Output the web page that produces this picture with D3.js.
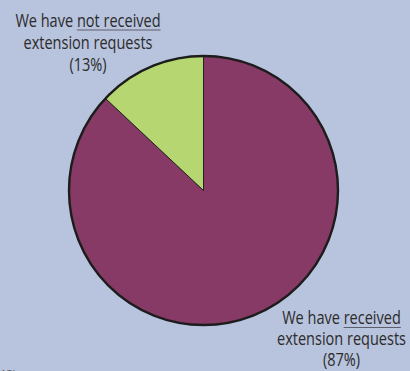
<!DOCTYPE html>
<html>
<head>
<meta charset="utf-8">
<script src="https://cdn.jsdelivr.net/npm/d3@7"></script>
<style>
  html, body { margin: 0; padding: 0; background: #b8c3dd; }
  svg { display: block; }
  text { font-family: "Open Sans", sans-serif; fill: #2b2b2b; }
</style>
</head>
<body>
<svg id="chart" width="410" height="371"></svg>
<script>
// Share of organisations that have / have not received extension requests
const categories = ["received", "not received"];
const shares = [87, 13];
const sliceColors = ["#883a66", "#b5d671"];

// Label lines: [prefix, underlined part], then plain lines
const labels = {
  "received": [["We have ", "received"], "extension requests", "(87%)"],
  "not received": [["We have ", "not received"], "extension requests", "(13%)"]
};

const width = 410, height = 371;
const cx = 203.5, cy = 190.5, radius = 134.5;

const svg = d3.select("#chart");
svg.append("rect").attr("width", width).attr("height", height).attr("fill", "#b8c3dd");

const pie = d3.pie().sort(null).value(d => d.value)
  .startAngle(0).endAngle(2 * Math.PI);
const arc = d3.arc().innerRadius(0).outerRadius(radius);

const data = categories.map((c, i) => ({ name: c, value: shares[i], color: sliceColors[i] }));
const arcs = pie(data);

const g = svg.append("g").attr("transform", `translate(${cx},${cy})`);
g.selectAll("path.slice")
  .data(arcs)
  .enter().append("path")
  .attr("class", "slice")
  .attr("d", arc)
  .attr("fill", d => d.data.color)
  .attr("stroke", "#222")
  .attr("stroke-width", 1)
  .attr("stroke-linejoin", "round");

// heavier outline around the whole pie
g.append("circle")
  .attr("r", radius)
  .attr("fill", "none")
  .attr("stroke", "#1d1d1d")
  .attr("stroke-width", 2.4);

// condensed multi-line labels
const fontSize = 17.5, squeeze = 0.83;
function drawLabel(lines, x, y0, lineGap) {
  const lg = svg.append("g").attr("transform", `translate(${x},0) scale(${squeeze},1)`);
  lines.forEach((ln, i) => {
    const y = y0 + i * lineGap;
    const t = lg.append("text")
      .attr("x", 0).attr("y", y)
      .attr("text-anchor", "middle")
      .style("font-size", fontSize + "px");
    if (Array.isArray(ln)) {
      t.append("tspan").text(ln[0]);
      t.append("tspan").text(ln[1]);
      const node = t.node();
      const total = node.getComputedTextLength();
      const pre = node.getSubStringLength(0, ln[0].length);
      const und = node.getSubStringLength(ln[0].length, ln[1].length);
      const start = -total / 2 + pre;
      lg.append("line")
        .attr("x1", start).attr("x2", start + und)
        .attr("y1", y + 3).attr("y2", y + 3)
        .attr("stroke", "#5e5f6e").attr("stroke-width", 1.2);
    } else {
      t.text(ln);
    }
  });
}

drawLabel(labels["not received"], 88, 27, 22);
drawLabel(labels["received"], 341.5, 324.5, 20.75);

// footnote, mostly below the frame
svg.append("text")
  .attr("x", -3).attr("y", 378)
  .style("font-size", "11px")
  .style("fill", "#555")
  .text("(13)");
</script>
</body>
</html>
